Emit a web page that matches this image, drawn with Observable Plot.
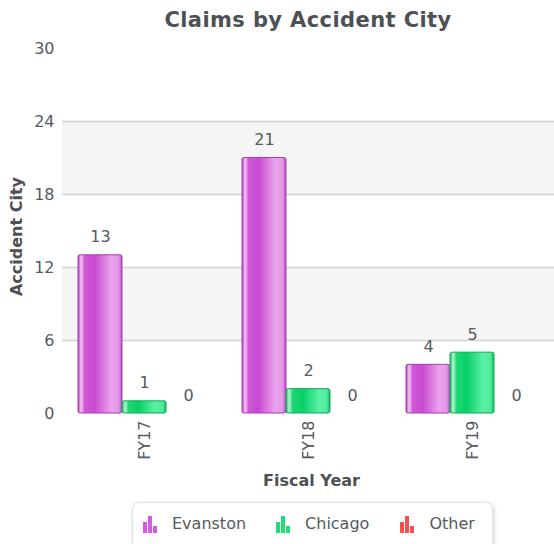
<!DOCTYPE html>
<html>
<head>
<meta charset="utf-8">
<script src="https://cdn.jsdelivr.net/npm/d3@7"></script>
<script src="https://cdn.jsdelivr.net/npm/@observablehq/plot@0.6"></script>
<style>
  html, body { margin: 0; padding: 0; background: #fff; }
  #wrap { position: relative; width: 554px; height: 544px; overflow: hidden; font-family: "DejaVu Sans", Verdana, sans-serif; }
  #title { position: absolute; left: 0; top: 0; width: 554px; height: 40px; box-sizing: border-box; padding-left: 62px;
           text-align: center; line-height: 40px; font-size: 21px; font-weight: bold; color: #4d5054; letter-spacing: 0.4px; }
  #chart { position: absolute; left: 0; top: 40px; }
  #legend { position: absolute; left: 132px; top: 502px; width: 361px; height: 52px; box-sizing: border-box;
            border: 1px solid #e2e2e2; border-radius: 7px; box-shadow: 1px 2px 5px rgba(0,0,0,0.18); background: #fff;
            display: flex; align-items: flex-start; padding-top: 12px; padding-left: 10px; }
  .item { display: flex; align-items: flex-end; font-size: 16px; color: #555a60; }
  .item svg { margin-right: 15px; }
</style>
</head>
<body>
<div id="wrap">
  <div id="title">Claims by Accident City</div>
  <div id="chart"></div>
  <div id="legend"></div>
</div>
<script>
const years = ["FY17", "FY18", "FY19"];
const cities = ["Evanston", "Chicago", "Other"];
const evanston = [13, 21, 4];
const chicago = [1, 2, 5];
const other = [0, 0, 0];
const yTicks = [0, 6, 12, 18, 24, 30];
const gridValues = [6, 12, 18, 24];
const bandLows = [6, 18];
const bandHighs = [12, 24];
const yTitle = "Accident City";
const xTitle = "Fiscal Year";

const seriesValues = {Evanston: evanston, Chicago: chicago, Other: other};
const rows = [];
years.forEach((year, i) => cities.forEach(city => rows.push({year, city, value: seriesValues[city][i]})));
const bands = bandLows.map((lo, i) => ({lo, hi: bandHighs[i]}));

const gradients = {
  Evanston: {id: "gradE", stroke: "#a63db0", icon: "#d656e6",
    stops: [[0, "#b23cbc"], [0.07, "#f3c8f5"], [0.15, "#cf58d6"], [0.38, "#c94ad0"], [0.75, "#eaa3ee"], [0.92, "#e598ea"], [1, "#b84cc0"]]},
  Chicago: {id: "gradC", stroke: "#14a55a", icon: "#22de78",
    stops: [[0, "#10b860"], [0.07, "#b8f5d2"], [0.15, "#1ed874"], [0.38, "#08d069"], [0.75, "#5af0a4"], [0.92, "#52ec9e"], [1, "#15b862"]]},
  Other: {id: "gradO", stroke: "none", icon: "#ff4d4d",
    stops: [[0, "#e03030"], [0.5, "#ff5a5a"], [1, "#e03030"]]}
};

const plot = Plot.plot({
  width: 554,
  height: 460,
  marginTop: 8,
  marginBottom: 87,
  marginLeft: 62,
  marginRight: 0,
  style: {fontFamily: "DejaVu Sans, Verdana, sans-serif", fontSize: "16px", color: "#555a60", background: "transparent", overflow: "visible"},
  fx: {domain: years, padding: 0, axis: "bottom", tickRotate: -90, tickSize: 0, tickPadding: 7, label: null},
  x: {domain: cities, paddingInner: 0, paddingOuter: 0.34, axis: null},
  y: {domain: [0, 30], ticks: yTicks, tickSize: 0, tickPadding: 8, label: null, tickFormat: d => String(d)},
  marks: [
    Plot.rect(bands, {y1: "lo", y2: "hi", fill: "#f5f5f5"}),
    Plot.ruleY(gridValues, {stroke: "#d2d2d2", strokeWidth: 1.5}),
    ...cities.map(city => Plot.barY(rows.filter(d => d.city === city), {
      fx: "year", x: "city", y: "value",
      fill: `url(#${gradients[city].id})`,
      stroke: gradients[city].stroke, strokeWidth: 1, rx: 2
    })),
    Plot.text(rows, {fx: "year", x: "city", y: "value", text: d => String(d.value), dy: -18, fill: "#555a60", fontSize: 16}),
    Plot.text([{label: yTitle, year: years[0]}], {fx: "year", text: "label", frameAnchor: "left", rotate: -90,
      textAnchor: "middle", lineAnchor: "middle",
      dx: -45.5, dy: 5.5, fontWeight: "bold", fontSize: 16, fill: "#4d5054"}),
    Plot.text([{label: xTitle, year: years[1]}], {fx: "year", text: "label", frameAnchor: "bottom",
      textAnchor: "middle", lineAnchor: "middle",
      dx: 3, dy: 67, fontWeight: "bold", fontSize: 16, fill: "#4d5054"})
  ]
});

// gradient definitions for the bar fills
const svg = d3.select(plot);
const defs = svg.insert("defs", ":first-child");
cities.forEach(city => {
  const g = gradients[city];
  const lg = defs.append("linearGradient").attr("id", g.id).attr("x1", "0").attr("x2", "1").attr("y1", "0").attr("y2", "0");
  g.stops.forEach(([o, c]) => lg.append("stop").attr("offset", o).attr("stop-color", c));
});
document.getElementById("chart").appendChild(plot);

// legend
const legend = d3.select("#legend");
const gaps = [30, 31, 0];
cities.forEach((city, i) => {
  const item = legend.append("div").attr("class", "item").style("margin-right", gaps[i] + "px");
  const icon = item.append("svg").attr("width", 14).attr("height", 17);
  [[0, 6, 11], [5, 0, 17], [10, 10, 7]].forEach(([x, y, h]) =>
    icon.append("rect").attr("x", x).attr("y", y).attr("width", 4).attr("height", h).attr("fill", gradients[city].icon));
  item.append("span").text(city).style("line-height", "18px");
});
</script>
</body>
</html>
